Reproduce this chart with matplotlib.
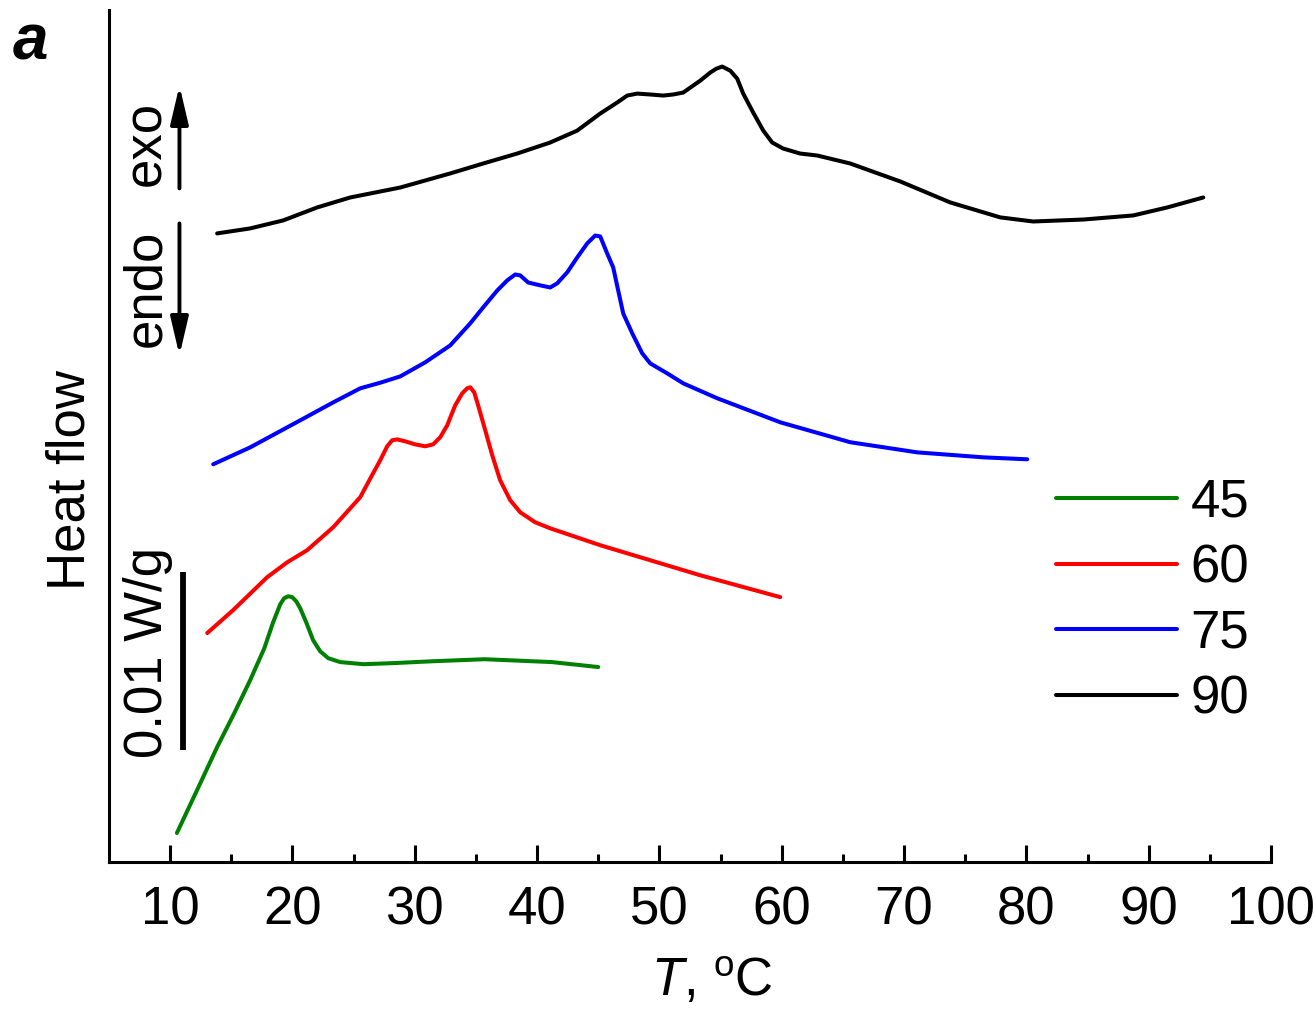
import numpy as np
import matplotlib.pyplot as plt

plt.rcParams['font.family'] = ['Liberation Sans', 'DejaVu Sans']
plt.rcParams['mathtext.fontset'] = 'custom'
plt.rcParams['mathtext.rm'] = 'Liberation Sans'
plt.rcParams['mathtext.it'] = 'Liberation Sans:italic'

# heat flow curves, y in mW/g (offset, arbitrary zero)
t45 = [10.55, 12.2, 13.84, 15.2, 16.54, 17.7, 18.42, 19.0, 19.32, 19.65, 19.98, 20.3, 20.63,
       21.12, 21.69, 22.26, 22.92, 23.9, 25.8, 28.2, 31.6, 35.7, 41.2, 45.0]
h45 = [1.63, 4.04, 6.46, 8.31, 10.22, 12.02, 13.48, 14.49, 14.83, 14.94, 14.89, 14.66, 14.27,
       13.48, 12.47, 11.85, 11.46, 11.24, 11.12, 11.18, 11.29, 11.40, 11.24, 10.96]

t60 = [13.03, 15.15, 17.93, 19.57, 21.2, 23.33, 25.54, 26.5, 27.17, 27.74, 28.15, 28.56, 29.21,
       30.03, 30.85, 31.5, 32.08, 32.65, 33.3, 33.88, 34.28, 34.53, 34.86, 35.18, 35.76,
       36.33, 36.98, 37.8, 38.62, 39.84, 41.07, 45.16, 53.34, 59.88]
h60 = [12.87, 14.16, 16.01, 16.85, 17.53, 18.82, 20.51, 21.74, 22.58, 23.37, 23.71, 23.76, 23.65,
       23.48, 23.37, 23.48, 23.88, 24.55, 25.67, 26.35, 26.63, 26.69, 26.4, 25.67, 24.27,
       22.87, 21.46, 20.34, 19.66, 19.1, 18.76, 17.81, 16.12, 14.89]

t75 = [13.52, 16.54, 20.63, 23.33, 25.54, 27.2, 28.81, 30.85, 32.89, 34.53, 35.59, 36.74, 37.56,
       38.21, 38.62, 39.27, 40.25, 41.07, 41.64, 42.46, 43.28, 44.1, 44.75, 45.16, 45.73,
       46.22, 46.63, 47.04, 47.78, 48.59, 49.25, 50.64, 51.95, 54.73, 59.88, 65.6, 71.08,
       76.48, 80.07]
h75 = [22.36, 23.31, 24.83, 25.84, 26.63, 26.95, 27.3, 28.09, 29.04, 30.28, 31.18, 32.13, 32.70,
       33.03, 32.98, 32.58, 32.42, 32.30, 32.53, 33.15, 33.99, 34.78, 35.22, 35.17, 34.21,
       33.43, 32.13, 30.84, 29.72, 28.6, 28.03, 27.47, 26.91, 26.07, 24.72, 23.6, 23.03,
       22.75, 22.64]

t90 = [13.84, 16.54, 19.24, 22.02, 24.72, 28.81, 32.89, 35.59, 38.37, 41.07, 43.28, 45.16, 46.55,
       47.37, 48.18, 49.25, 50.31, 51.13, 51.95, 52.53, 53.34, 54.15, 54.65, 55.13, 55.79,
       56.36, 56.85, 57.67, 58.49, 59.22, 60.12, 61.51, 62.9, 65.6, 69.69, 73.78, 77.87,
       80.56, 84.65, 88.74, 91.52, 94.46]
h90 = [35.34, 35.62, 36.07, 36.80, 37.36, 37.92, 38.71, 39.27, 39.83, 40.45, 41.12, 42.08, 42.70,
       43.09, 43.2, 43.15, 43.09, 43.15, 43.26, 43.54, 43.93, 44.38, 44.6, 44.72, 44.49,
       44.04, 43.2, 42.13, 41.12, 40.45, 40.11, 39.83, 39.72, 39.27, 38.26, 37.08, 36.24,
       36.01, 36.12, 36.35, 36.80, 37.36]

labels = ['45', '60', '75', '90']
colors = ['#008000', '#ff0000', '#0000ff', '#000000']

fs = 38
fig = plt.figure(figsize=(13.14, 10.14), dpi=100)
ax = fig.add_axes([109/1314, 152/1014, 1162/1314, 852/1014])

for t, h, lab, c in zip([t45, t60, t75, t90], [h45, h60, h75, h90], labels, colors):
    ax.plot(t, h, color=c, lw=2.9, label=lab, solid_joinstyle='round', solid_capstyle='round')

ax.set_xlim(5, 100)
ax.set_ylim(0, 47.9)
ax.set_xticks(np.arange(10, 101, 10))
ax.set_xticks(np.arange(15, 100, 10), minor=True)
ax.set_yticks([])
ax.tick_params(axis='x', which='major', direction='in', length=12.2, width=2.2,
               labelsize=fs, pad=17)
ax.tick_params(axis='x', which='minor', direction='in', length=5.8, width=2.2)
for s in ['top', 'right']:
    ax.spines[s].set_visible(False)
for s in ['left', 'bottom']:
    ax.spines[s].set_linewidth(2.2)

ax.set_xlabel(r'$\mathit{T}$, $^{\mathrm{o}}$C', fontsize=fs, labelpad=15, x=0.519)
ax.set_ylabel('Heat flow', fontsize=fs, labelpad=10, y=0.448)

# scale bar
ax.plot([11.06, 11.06], [6.29, 16.29], color='black', lw=4.2, solid_capstyle='butt')
ax.text(8.2, 11.8, '0.01 W/g', rotation=90, fontsize=fs, ha='center', va='center')

# exo / endo arrows
arrow = dict(arrowstyle='-|>,head_length=2.3,head_width=0.54', lw=2.8, color='black',
             shrinkA=0, shrinkB=0)
ax.annotate('', xy=(10.76, 43.65), xytext=(10.76, 37.87), arrowprops=arrow)
ax.annotate('', xy=(10.76, 28.48), xytext=(10.76, 35.9), arrowprops=arrow)
ax.text(8.05, 40.37, 'exo', rotation=90, fontsize=fs, ha='center', va='center')
ax.text(8.05, 32.28, 'endo', rotation=90, fontsize=fs, ha='center', va='center')

fig.text(30/1314, 1 - 43/1014, 'a', fontsize=46, fontweight='bold', fontstyle='italic',
         ha='center', va='center')

ax.legend(loc='center left', bbox_to_anchor=(1056/1314, 1 - 601/1014),
          bbox_transform=fig.transFigure, frameon=False, fontsize=fs,
          handlelength=2.3, handletextpad=0.25, labelspacing=0.30, borderpad=0, borderaxespad=0)

fig.savefig('out.png', dpi=100)
